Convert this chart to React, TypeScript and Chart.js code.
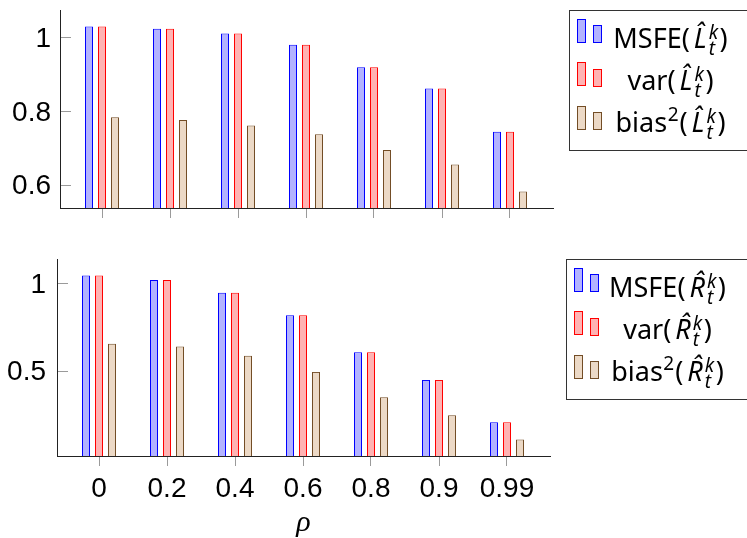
import React, { useEffect, useRef } from 'react';
import { Chart, registerables } from 'chart.js';

Chart.register(...registerables);

// ---- data ----
const rhoLabels = ['0', '0.2', '0.4', '0.6', '0.8', '0.9', '0.99'];

const msfeL = [1.029, 1.023, 1.010, 0.980, 0.919, 0.861, 0.744];
const varL = [1.029, 1.023, 1.010, 0.980, 0.919, 0.861, 0.744];
const bias2L = [0.783, 0.776, 0.761, 0.737, 0.694, 0.655, 0.582];

const msfeR = [1.046, 1.019, 0.947, 0.818, 0.605, 0.447, 0.205];
const varR = [1.046, 1.019, 0.947, 0.818, 0.605, 0.447, 0.205];
const bias2R = [0.654, 0.639, 0.586, 0.493, 0.348, 0.244, 0.105];

const topYTicks = [0.6, 0.8, 1];
const bottomYTicks = [0.5, 1];
const topYRange = [0.537, 1.074];
const bottomYRange = [0.011, 1.14];
const xRange = [-42 / 68, 6 + 43 / 68];

// ---- styles ----
const SERIES = [
  { bg: '#b3b3ff', border: '#0000ff' },
  { bg: '#ffb3b3', border: '#ff0000' },
  { bg: '#ecd9c6', border: '#734d26' },
];
const TICK_FONT = { family: '"Liberation Sans", Arial, sans-serif', size: 28 };
const LEG_FAMILY = '"Noto Sans", sans-serif';
const AXIS_COLOR = '#222';
const TICK_COLOR = '#9a9a9a';

type Seg =
  | { kind: 'txt'; text: string; italic?: boolean; after?: number }
  | { kind: 'scr'; sup: string; sub?: string; supItalic?: boolean; after?: number };

function legendEntries(letter: string): Seg[][] {
  const hat: Seg = { kind: 'txt', text: letter + '\u0302', italic: true, after: 2 };
  const kt: Seg = { kind: 'scr', sup: 'k', sub: 't', supItalic: true, after: 1.5 };
  return [
    [{ kind: 'txt', text: 'MSFE(', after: 4 }, hat, kt, { kind: 'txt', text: ')' }],
    [{ kind: 'txt', text: 'var(', after: 4 }, hat, kt, { kind: 'txt', text: ')' }],
    [
      { kind: 'txt', text: 'bias', after: 0.5 },
      { kind: 'scr', sup: '2', after: 1 },
      { kind: 'txt', text: '(', after: 4 },
      hat,
      kt,
      { kind: 'txt', text: ')' },
    ],
  ];
}

const MAIN = 27;
const SCRIPT = 19;

function fontStr(size: number, italic?: boolean) {
  return `${italic ? 'italic ' : ''}${size}px ${LEG_FAMILY}`;
}

function segWidth(ctx: CanvasRenderingContext2D, s: Seg): number {
  if (s.kind === 'txt') {
    ctx.font = fontStr(MAIN, s.italic);
    return ctx.measureText(s.text).width + (s.after || 0);
  }
  ctx.font = fontStr(SCRIPT, s.supItalic);
  const w1 = ctx.measureText(s.sup).width;
  let w2 = 0;
  if (s.sub) {
    ctx.font = fontStr(SCRIPT, true);
    w2 = ctx.measureText(s.sub).width;
  }
  return Math.max(w1, w2) + (s.after || 0);
}

function drawRich(ctx: CanvasRenderingContext2D, segs: Seg[], cx: number, baseline: number) {
  const total = segs.reduce((a, s) => a + segWidth(ctx, s), 0) - ((segs[segs.length - 1] as any).after || 0);
  let x = cx - total / 2;
  ctx.fillStyle = '#000';
  ctx.textBaseline = 'alphabetic';
  ctx.textAlign = 'left';
  for (const s of segs) {
    const w = segWidth(ctx, s);
    if (s.kind === 'txt') {
      ctx.font = fontStr(MAIN, s.italic);
      ctx.fillText(s.text, x, baseline);
    } else {
      ctx.font = fontStr(SCRIPT, s.supItalic);
      ctx.fillText(s.sup, x, baseline - (s.sub ? 9 : 11));
      if (s.sub) {
        ctx.font = fontStr(SCRIPT, true);
        ctx.fillText(s.sub, x, baseline + 7);
      }
    }
    x += w;
  }
}

function makeLegendPlugin(letter: string) {
  const entries = legendEntries(letter);
  return {
    id: 'customLegend',
    afterDraw(chart: any) {
      const { ctx, chartArea: ca } = chart;
      const bx = Math.round(ca.right + 16);
      const by = Math.round(ca.top);
      ctx.save();
      ctx.fillStyle = '#fff';
      ctx.fillRect(bx, by, 400, 141);
      ctx.strokeStyle = '#333';
      ctx.lineWidth = 1;
      ctx.strokeRect(bx + 0.5, by + 0.5, 400, 140);
      const baselines = [37.8, 80, 121.5];
      entries.forEach((segs, i) => {
        const iconBottom = by + 33 + i * 43.3;
        const c = SERIES[i];
        const rects = [
          [bx + 8, Math.round(iconBottom - 24), 9, 24],
          [bx + 24, Math.round(iconBottom - 17.6), 9, Math.round(17.6)],
        ];
        for (const [x, y, w, h] of rects) {
          ctx.fillStyle = c.bg;
          ctx.fillRect(x, y, w, h);
          ctx.strokeStyle = c.border;
          ctx.lineWidth = 1;
          ctx.strokeRect(x + 0.5, y + 0.5, w - 1, h - 1);
        }
        drawRich(ctx, segs, bx + 101.5, by + baselines[i]);
      });
      ctx.restore();
    },
  };
}

const insideYTicks = {
  id: 'insideYTicks',
  afterDraw(chart: any) {
    const { ctx, chartArea: ca } = chart;
    const y = chart.scales.y;
    ctx.save();
    ctx.strokeStyle = TICK_COLOR;
    ctx.lineWidth = 1;
    for (const t of y.ticks) {
      const py = Math.round(y.getPixelForValue(t.value)) + 0.5;
      ctx.beginPath();
      ctx.moveTo(ca.left + 1, py);
      ctx.lineTo(ca.left + 11, py);
      ctx.stroke();
    }
    ctx.restore();
  },
};

type Cfg = {
  series: number[][];
  yTicks: number[];
  yRange: number[];
  yWidth: number;
  yPad: number;
  padTop: number;
  padRight: number;
  xHeight: number;
  showX: boolean;
  letter: string;
};

function buildChart(canvas: HTMLCanvasElement, cfg: Cfg) {
  return new Chart(canvas, {
    type: 'bar',
    data: {
      datasets: cfg.series.map((vals, k) => ({
        data: vals.map((v, i) => ({ x: i, y: v })),
        backgroundColor: SERIES[k].bg,
        borderColor: SERIES[k].border,
        borderWidth: 1,
        categoryPercentage: 39 / 68,
        barPercentage: 8 / 13,
        inflateAmount: 0,
        clip: 0,
      })),
    },
    options: {
      animation: false,
      responsive: false,
      devicePixelRatio: 1,
      layout: { padding: { top: cfg.padTop, right: cfg.padRight, left: 0, bottom: 0 } },
      plugins: { legend: { display: false }, tooltip: { enabled: false } },
      scales: {
        x: {
          type: 'linear',
          min: xRange[0],
          max: xRange[1],
          offset: false,
          z: 1,
          afterBuildTicks: (axis: any) => {
            axis.ticks = rhoLabels.map((_, i) => ({ value: i }));
          },
          afterFit: (s: any) => {
            s.height = cfg.xHeight;
            s.paddingLeft = 0;
            s.paddingRight = 0;
          },
          ticks: {
            display: cfg.showX,
            callback: (v: any) => rhoLabels[v],
            font: TICK_FONT,
            color: '#000',
            padding: 6,
            maxRotation: 0,
            autoSkip: false,
          },
          grid: {
            display: true,
            offset: false,
            drawOnChartArea: false,
            drawTicks: true,
            tickLength: 10,
            color: TICK_COLOR,
            lineWidth: 1,
          },
          border: { display: true, color: AXIS_COLOR, width: 1 },
          title: {
            display: cfg.showX,
            text: 'ρ',
            color: '#000',
            font: { family: '"Liberation Serif", serif', size: 30, style: 'italic', lineHeight: 1 },
            padding: { top: 0, bottom: 0 },
          },
        },
        y: {
          min: cfg.yRange[0],
          max: cfg.yRange[1],
          z: 1,
          afterBuildTicks: (axis: any) => {
            axis.ticks = cfg.yTicks.map((v) => ({ value: v }));
          },
          afterFit: (s: any) => {
            s.width = cfg.yWidth;
            s.paddingTop = 0;
            s.paddingBottom = 0;
          },
          ticks: {
            callback: (v: any) => String(v),
            font: TICK_FONT,
            color: '#000',
            padding: cfg.yPad,
            labelOffset: 2,
          },
          grid: { display: false, drawTicks: false },
          border: { display: true, color: AXIS_COLOR, width: 1 },
        },
      },
    } as any,
    plugins: [insideYTicks, makeLegendPlugin(cfg.letter)],
  });
}

export default function App() {
  const topRef = useRef<HTMLCanvasElement>(null);
  const botRef = useRef<HTMLCanvasElement>(null);

  useEffect(() => {
    const c1 = buildChart(topRef.current!, {
      series: [msfeL, varL, bias2L],
      yTicks: topYTicks,
      yRange: topYRange,
      yWidth: 60,
      yPad: 9,
      padTop: 10,
      padRight: 194,
      xHeight: 22,
      showX: false,
      letter: 'L',
    });
    const c2 = buildChart(botRef.current!, {
      series: [msfeR, varR, bias2R],
      yTicks: bottomYTicks,
      yRange: bottomYRange,
      yWidth: 57,
      yPad: 11,
      padTop: 29,
      padRight: 197,
      xHeight: 82,
      showX: true,
      letter: 'R',
    });
    return () => {
      c1.destroy();
      c2.destroy();
    };
  }, []);

  return (
    <div style={{ position: 'absolute', left: 0, top: 0, width: 747, height: 538, background: '#fff', overflow: 'hidden' }}>
      <canvas ref={topRef} width={747} height={230} style={{ position: 'absolute', left: 0, top: 0, width: 747, height: 230 }} />
      <canvas ref={botRef} width={747} height={308} style={{ position: 'absolute', left: 0, top: 230, width: 747, height: 308 }} />
    </div>
  );
}
